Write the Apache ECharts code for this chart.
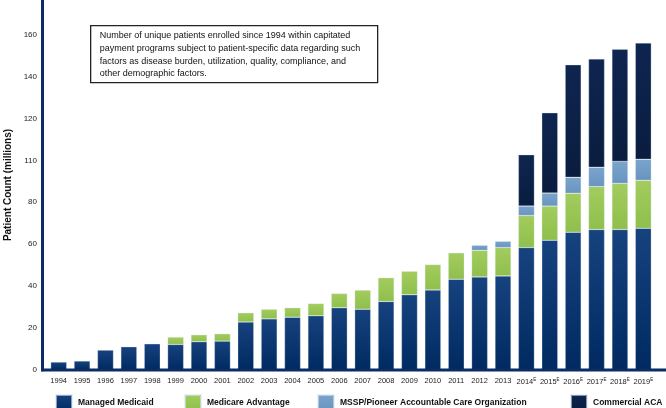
<!DOCTYPE html>
<html>
<head>
<meta charset="utf-8">
<script src="https://cdn.jsdelivr.net/npm/echarts@6/dist/echarts.min.js"></script>
<style>
  html, body { margin: 0; padding: 0; background: #fff; }
  #chart { width: 666px; height: 408px; }
</style>
</head>
<body>
<div id="chart"></div>
<script>
// years, "E" = estimate
var years = ['1994', '1995', '1996', '1997', '1998', '1999', '2000', '2001', '2002', '2003', '2004', '2005', '2006',
    '2007', '2008', '2009', '2010', '2011', '2012', '2013', '2014E', '2015E', '2016E', '2017E', '2018E', '2019E'];

// millions of patients
var managedMedicaid = [3.8, 4.3, 9.5, 11.1, 12.5, 12.2, 13.5, 13.8, 22.9, 24.4, 25.2, 25.9, 29.7,
    29.0, 32.7, 35.9, 38.2, 43.3, 44.4, 44.9, 58.4, 61.9, 65.7, 67.0, 67.0, 67.6];
var medicareAdvantage = [null, null, null, null, null, 3.5, 3.3, 3.5, 4.4, 4.6, 4.5, 5.8, 6.8,
    9.1, 11.3, 11.2, 12.1, 12.6, 12.7, 13.5, 15.3, 16.3, 18.6, 20.5, 22.0, 22.9];
var msspAco = [null, null, null, null, null, null, null, null, null, null, null, null, null,
    null, null, null, null, null, 2.4, 3.0, 4.5, 6.2, 7.6, 9.2, 10.5, 10.0];
var commercialAca = [null, null, null, null, null, null, null, null, null, null, null, null, null,
    null, null, null, null, null, null, null, 24.5, 38.3, 53.7, 51.7, 53.5, 55.5];

// tick labels as printed in the source (note the "110")
var yTickLabels = ['0', '20', '40', '60', '80', '110', '120', '140', '160'];

var seriesNames = ['Managed Medicaid', 'Medicare Advantage', 'MSSP/Pioneer Accountable Care Organization', 'Commercial ACA'];

var noteLines = [
    'Number of unique patients enrolled since 1994 within capitated',
    'payment programs subject to patient-specific data regarding such',
    'factors as disease burden, utilization, quality, compliance, and',
    'other demographic factors.'
];

var myChart = echarts.init(document.getElementById('chart'));

function grad(top, bottom) {
    return new echarts.graphic.LinearGradient(0, 0, 0, 1, [
        { offset: 0, color: top },
        { offset: 1, color: bottom }
    ]);
}

var barStyle = function (name, data, color) {
    return {
        name: name,
        type: 'bar',
        stack: 'total',
        barWidth: 16,
        data: data,
        itemStyle: {
            color: color,
            borderColor: 'rgba(220,230,240,0.6)',
            borderWidth: 0.5
        }
    };
};

// one legend per item, the source spaces them unevenly
var legendLeft = [55, 184, 317, 570];
var legends = seriesNames.map(function (name, i) {
    return {
        left: legendLeft[i],
        top: 394,
        padding: 0,
        itemWidth: 16,
        itemHeight: 15,
        itemGap: 0,
        icon: 'rect',
        textStyle: { fontSize: 8.5, fontWeight: 'bold', color: '#111', padding: [0, 0, 0, 1] },
        data: [name]
    };
});

var option = {
    animation: false,
    textStyle: { fontFamily: 'Liberation Sans, Arial, sans-serif' },
    grid: { left: 47, right: 11, top: 0, bottom: 38, outerBoundsMode: 'none' },
    legend: legends,
    xAxis: {
        type: 'category',
        data: years,
        axisLine: { show: false },
        axisTick: { show: false },
        axisLabel: {
            interval: 0,
            margin: 7,
            fontSize: 7.5,
            color: '#222',
            formatter: function (v) {
                if (v.slice(-1) === 'E') {
                    return '{y|' + v.slice(0, 4) + '}{e|E}';
                }
                return '{y|' + v + '}';
            },
            rich: {
                y: { fontSize: 7.5, color: '#222' },
                e: { fontSize: 4.5, color: '#222', verticalAlign: 'top', padding: [0, 0, 4, 0] }
            }
        }
    },
    yAxis: {
        type: 'value',
        min: 0,
        max: 176.5,
        interval: 20,
        position: 'left',
        offset: 5,
        name: 'Patient Count (millions)',
        nameLocation: 'middle',
        nameGap: 29,
        nameTextStyle: { fontSize: 10, fontWeight: 'bold', color: '#111' },
        axisLine: { show: true, onZero: false, lineStyle: { color: '#0b2d63', width: 3 } },
        axisTick: { show: false },
        splitLine: { show: false },
        axisLabel: {
            fontSize: 8,
            color: '#222',
            margin: 5,
            formatter: function (v) {
                var i = v / 20;
                return Number.isInteger(i) && i < yTickLabels.length ? yTickLabels[i] : '';
            }
        }
    },
    graphic: [
        {
            // x axis line runs from the y axis to the right edge
            type: 'rect',
            left: 41,
            top: 368.5,
            shape: { width: 625, height: 3 },
            style: { fill: '#0b2d63' },
            z: 10
        },
        {
            type: 'group',
            left: 90,
            top: 25,
            children: [
                {
                    type: 'rect',
                    shape: { x: 0, y: 0, width: 287, height: 57 },
                    style: { fill: '#fff', stroke: '#222', lineWidth: 1.3 }
                },
                {
                    type: 'text',
                    x: 9,
                    y: 4,
                    style: {
                        text: noteLines.join('\n'),
                        font: '9px "Liberation Sans", Arial, sans-serif',
                        lineHeight: 12.6,
                        fill: '#111'
                    }
                }
            ]
        }
    ],
    series: [
        barStyle(seriesNames[0], managedMedicaid, grad('#16427f', '#002a60')),
        barStyle(seriesNames[1], medicareAdvantage, grad('#a3cc5e', '#8fbf4c')),
        barStyle(seriesNames[2], msspAco, grad('#7aa4cc', '#6794bf')),
        barStyle(seriesNames[3], commercialAca, grad('#0e2550', '#0a1d3f'))
    ]
};

myChart.setOption(option);
</script>
</body>
</html>
